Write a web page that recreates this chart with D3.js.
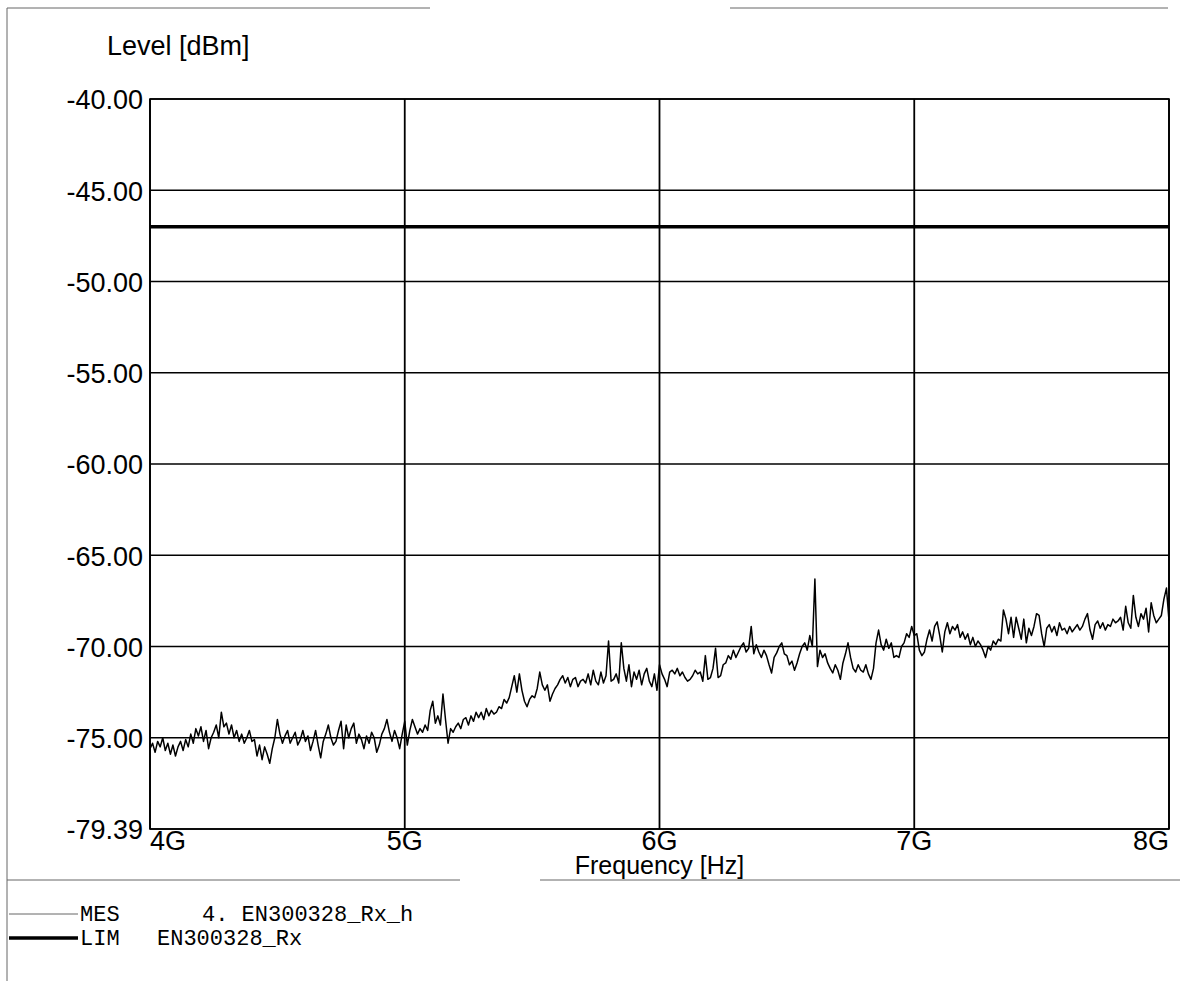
<!DOCTYPE html>
<html>
<head>
<meta charset="utf-8">
<script src="https://cdn.jsdelivr.net/npm/d3@7"></script>
<style>
  body { margin: 0; background: #fff; }
  svg { display: block; }
</style>
</head>
<body>
<div id="chart"></div>
<script>
// y ticks (dB) and their printed labels
const yTicks = [-40, -45, -50, -55, -60, -65, -70, -75, -80];
const yTickLabels = ["-40.00", "-45.00", "-50.00", "-55.00", "-60.00", "-65.00", "-70.00", "-75.00", "-79.39"];
// x ticks (GHz)
const xTicks = [4, 5, 6, 7, 8];
const xTickLabels = ["4G", "5G", "6G", "7G", "8G"];

// limit line EN300328_Rx
const limitFreq = [4, 8];
const limitLevel = [-47, -47];

// measured trace, 4.00 .. 8.00 GHz in 0.01 GHz steps
const mesStart = 4.0;
const mesStep = 0.01;
const mesLevel = [
  -75.6,-75.3,-75.8,-75.2,-75.5,-75.0,-75.7,-75.3,-75.9,-75.4,
  -76.0,-75.5,-75.2,-75.7,-75.1,-75.5,-74.8,-75.3,-74.5,-74.9,
  -74.4,-75.2,-74.6,-75.6,-75.0,-74.7,-74.3,-75.0,-73.6,-74.4,
  -74.2,-74.8,-74.3,-75.0,-74.6,-75.2,-74.8,-75.3,-75.0,-74.6,
  -75.2,-75.1,-76.0,-75.4,-76.2,-75.5,-75.9,-76.4,-75.6,-75.0,
  -74.0,-74.8,-75.3,-74.9,-74.6,-75.3,-75.0,-74.7,-75.4,-75.1,
  -74.6,-75.2,-74.9,-75.7,-75.2,-74.6,-75.4,-76.1,-75.2,-74.8,
  -74.3,-75.0,-75.4,-75.2,-74.6,-74.1,-75.6,-74.3,-75.0,-74.5,
  -74.2,-75.3,-74.8,-75.1,-75.6,-74.9,-75.3,-74.7,-75.0,-75.8,
  -75.4,-74.8,-74.5,-74.0,-74.7,-75.2,-74.6,-75.0,-75.6,-74.8,
  -74.1,-75.4,-74.6,-74.0,-74.4,-74.8,-74.5,-74.7,-74.3,-74.6,
  -73.5,-73.0,-74.2,-73.8,-74.3,-72.6,-74.0,-75.3,-74.5,-74.7,
  -74.4,-74.2,-74.5,-74.0,-73.9,-74.3,-73.8,-74.1,-73.6,-73.9,
  -73.6,-74.0,-73.4,-73.8,-73.5,-73.7,-73.6,-73.3,-73.4,-72.9,
  -73.1,-72.8,-72.2,-71.6,-72.5,-71.5,-72.4,-73.0,-73.3,-72.9,
  -72.7,-72.8,-72.3,-71.4,-72.1,-72.4,-72.1,-73.0,-72.6,-72.3,
  -72.1,-71.8,-71.6,-72.0,-71.7,-72.2,-71.8,-71.7,-72.2,-71.9,
  -71.8,-72.0,-71.5,-72.1,-71.3,-71.9,-72.1,-71.4,-72.0,-71.6,
  -69.7,-71.9,-71.8,-71.5,-72.0,-69.8,-71.2,-71.9,-71.0,-72.2,
  -71.4,-71.8,-71.3,-72.1,-71.5,-71.2,-71.9,-72.2,-71.5,-72.4,
  -71.0,-71.5,-71.8,-72.2,-71.4,-71.3,-71.5,-71.2,-71.6,-71.4,
  -71.7,-71.9,-71.8,-71.6,-71.3,-71.5,-71.4,-71.9,-70.5,-71.8,
  -71.7,-71.2,-70.1,-71.7,-71.6,-71.0,-70.9,-70.5,-70.7,-70.2,
  -70.6,-70.3,-70.0,-69.8,-70.3,-70.1,-68.9,-70.4,-69.9,-70.3,
  -70.6,-70.2,-70.5,-71.0,-71.45,-70.6,-70.35,-70.0,-69.8,-70.4,
  -70.5,-71.0,-70.8,-71.3,-70.9,-70.4,-70.0,-69.8,-70.2,-69.4,
  -70.0,-66.3,-71.1,-70.2,-70.6,-70.4,-70.9,-71.2,-71.45,-71.0,
  -71.3,-71.8,-70.9,-70.4,-69.8,-70.6,-71.2,-71.4,-71.0,-71.3,
  -71.4,-71.0,-71.5,-71.8,-71.2,-69.8,-69.1,-69.9,-70.2,-69.6,
  -70.1,-69.8,-70.6,-70.5,-70.6,-70.0,-69.8,-69.3,-69.5,-68.9,
  -69.4,-69.3,-70.2,-70.5,-70.3,-69.6,-69.1,-69.7,-68.9,-68.65,
  -69.4,-70.3,-69.2,-68.7,-69.3,-68.9,-69.1,-68.8,-69.5,-69.2,
  -69.6,-69.3,-69.9,-69.5,-70.0,-69.7,-69.9,-70.2,-70.6,-70.0,
  -70.2,-69.7,-69.9,-69.6,-69.7,-68.0,-68.5,-69.3,-68.4,-69.5,
  -68.4,-69.0,-69.6,-68.5,-69.8,-69.0,-69.4,-68.9,-68.2,-68.3,
  -69.3,-70.0,-69.0,-68.8,-69.2,-68.9,-69.4,-68.7,-69.1,-69.0,
  -69.3,-68.9,-69.2,-69.0,-68.8,-69.1,-68.9,-68.5,-68.2,-69.1,
  -69.6,-68.8,-68.6,-69.0,-68.7,-69.1,-68.8,-68.9,-68.5,-68.7,
  -68.6,-68.4,-69.1,-67.8,-68.7,-69.0,-67.2,-68.4,-68.9,-68.2,
  -68.5,-67.9,-69.2,-67.6,-68.3,-68.7,-68.5,-68.3,-67.4,-66.8,
  -68.6
];

const legendCodes = ["MES", "LIM"];
const legendNames = ["4. EN300328_Rx_h", "EN300328_Rx"];

const width = 1185;
const height = 981;
const plot = { left: 150, right: 1169, top: 99, bottom: 829 };
const sans = "Liberation Sans, Arial, sans-serif";
const mono = "Liberation Mono, Courier New, monospace";

const svg = d3.select("#chart")
  .append("svg")
  .attr("width", width)
  .attr("height", height);

const x = d3.scaleLinear().domain([4, 8]).range([plot.left, plot.right]);
const y = d3.scaleLinear().domain([-80, -40]).range([plot.bottom, plot.top]);

// page frame (scanned report borders)
const frame = svg.append("g").attr("stroke", "#666").attr("stroke-width", 1);
frame.append("line").attr("x1", 7).attr("x2", 7).attr("y1", 8).attr("y2", height);
frame.append("line").attr("x1", 7).attr("x2", 430).attr("y1", 8).attr("y2", 8);
frame.append("line").attr("x1", 730).attr("x2", 1168).attr("y1", 8).attr("y2", 8);
frame.append("line").attr("x1", 7).attr("x2", 460).attr("y1", 880).attr("y2", 880);
frame.append("line").attr("x1", 540).attr("x2", 1180).attr("y1", 880).attr("y2", 880);

// horizontal grid
svg.append("g")
  .selectAll("line")
  .data(yTicks)
  .join("line")
  .attr("x1", plot.left).attr("x2", plot.right)
  .attr("y1", d => y(d)).attr("y2", d => y(d))
  .attr("stroke", "#000")
  .attr("stroke-width", 1.4);

// vertical grid
svg.append("g")
  .selectAll("line")
  .data(xTicks)
  .join("line")
  .attr("x1", d => x(d)).attr("x2", d => x(d))
  .attr("y1", plot.top).attr("y2", plot.bottom)
  .attr("stroke", "#000")
  .attr("stroke-width", 1.8);

// y tick labels
svg.append("g")
  .selectAll("text")
  .data(yTicks)
  .join("text")
  .attr("x", plot.left - 7)
  .attr("y", d => y(d))
  .attr("dy", "0.38em")
  .attr("text-anchor", "end")
  .attr("font-family", sans)
  .attr("font-size", "27px")
  .text((d, i) => yTickLabels[i]);

// x tick labels
svg.append("g")
  .selectAll("text")
  .data(xTicks)
  .join("text")
  .attr("x", d => x(d))
  .attr("y", 850)
  .attr("text-anchor", (d, i) => i === 0 ? "start" : (i === xTicks.length - 1 ? "end" : "middle"))
  .attr("font-family", sans)
  .attr("font-size", "27px")
  .text((d, i) => xTickLabels[i]);

svg.append("text")
  .attr("x", 107).attr("y", 55)
  .attr("font-family", sans)
  .attr("font-size", "27px")
  .text("Level [dBm]");

svg.append("text")
  .attr("x", x(6)).attr("y", 874)
  .attr("text-anchor", "middle")
  .attr("font-family", sans)
  .attr("font-size", "25px")
  .text("Frequency [Hz]");

// limit line
const limitData = limitFreq.map((f, i) => ({ f: f, v: limitLevel[i] }));
svg.append("path")
  .datum(limitData)
  .attr("fill", "none")
  .attr("stroke", "#000")
  .attr("stroke-width", 3.5)
  .attr("d", d3.line().x(d => x(d.f)).y(d => y(d.v)));

// measurement trace
const mesData = mesLevel.map((v, i) => ({ f: mesStart + i * mesStep, v: v }));
svg.append("path")
  .datum(mesData)
  .attr("fill", "none")
  .attr("stroke", "#000")
  .attr("stroke-width", 1.5)
  .attr("stroke-linejoin", "round")
  .attr("d", d3.line().x(d => x(d.f)).y(d => y(d.v)));

// frame
svg.append("rect")
  .attr("x", plot.left).attr("y", plot.top)
  .attr("width", plot.right - plot.left).attr("height", plot.bottom - plot.top)
  .attr("fill", "none")
  .attr("stroke", "#000")
  .attr("stroke-width", 1.6);

// legend
const legend = svg.append("g");
legendCodes.forEach((code, i) => {
  const ly = 921 + i * 24;
  legend.append("line")
    .attr("x1", 9).attr("x2", 78)
    .attr("y1", ly - 7).attr("y2", ly - 7)
    .attr("stroke", i === 0 ? "#666" : "#000")
    .attr("stroke-width", i === 0 ? 1 : 3.5);
  legend.append("text")
    .attr("x", 80).attr("y", ly)
    .attr("font-family", mono)
    .attr("font-size", "22px")
    .text(code);
  legend.append("text")
    .attr("x", i === 0 ? 202 : 157).attr("y", ly)
    .attr("font-family", mono)
    .attr("font-size", "22px")
    .text(legendNames[i]);
});
</script>
</body>
</html>
